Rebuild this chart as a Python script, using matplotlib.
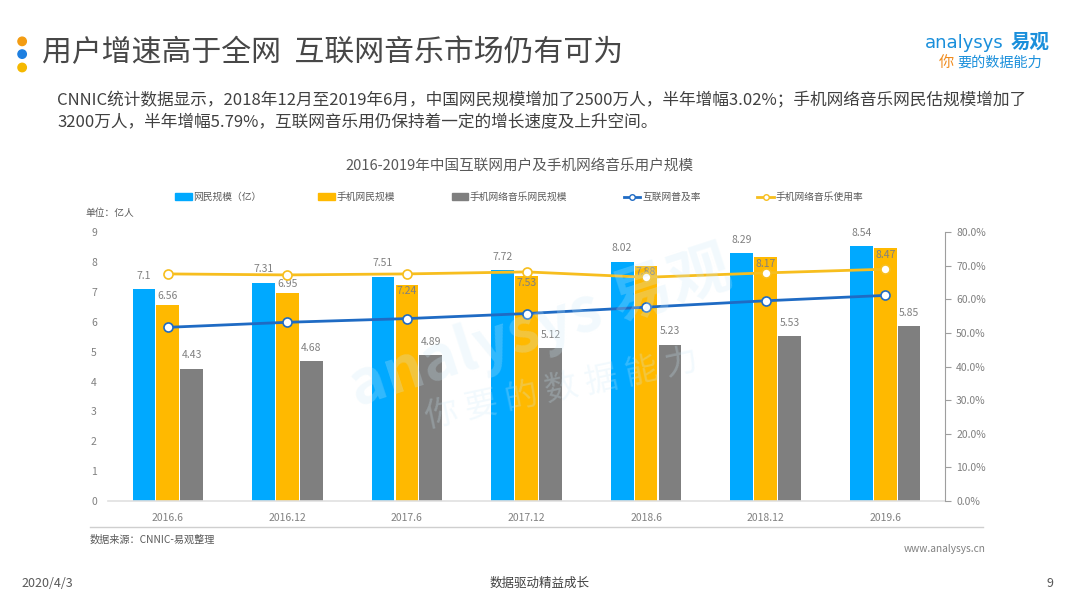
import numpy as np
import matplotlib
matplotlib.use('Agg')
import matplotlib.pyplot as plt
from matplotlib.lines import Line2D
from matplotlib.patches import Patch, Ellipse

plt.rcParams['font.family'] = ['Noto Sans CJK SC', 'DejaVu Sans']

# data
periods = ['2016.6', '2016.12', '2017.6', '2017.12', '2018.6', '2018.12', '2019.6']
netizens = [7.10, 7.31, 7.51, 7.72, 8.02, 8.29, 8.54]
mobile_netizens = [6.56, 6.95, 7.24, 7.53, 7.88, 8.17, 8.47]
mobile_music = [4.43, 4.68, 4.89, 5.12, 5.23, 5.53, 5.85]
penetration = [51.7, 53.2, 54.3, 55.8, 57.7, 59.6, 61.2]
music_usage = [67.6, 67.3, 67.6, 68.2, 66.6, 67.9, 69.0]
left_ticks = list(range(0, 10))
right_ticks = [0, 10, 20, 30, 40, 50, 60, 70, 80]

c_blue = '#00A9FF'
c_yellow = '#FFB900'
c_gray = '#7F7F7F'
c_line_blue = '#1F6BC4'
c_line_yellow = '#F7BE1E'
c_text = '#404040'
c_tick = '#808080'

fig = plt.figure(figsize=(10.8, 6.08), dpi=100)
aspect = 1080 / 608

# header
for yy, cc in zip([0.932, 0.911, 0.889], ['#F39C12', '#1E7FE0', '#F5B800']):
    fig.add_artist(Ellipse((0.0205, yy), 0.0078, 0.0078 * aspect, transform=fig.transFigure,
                           color=cc))
fig.text(0.039, 0.914, '用户增速高于全网  互联网音乐市场仍有可为', fontsize=21.5,
         color='#474747', va='center')
fig.text(0.053, 0.835, 'CNNIC统计数据显示，2018年12月至2019年6月，中国网民规模增加了2500万人，半年增幅3.02%；手机网络音乐网民估规模增加了',
         fontsize=12, color=c_text, va='center')
fig.text(0.053, 0.799, '3200万人，半年增幅5.79%，互联网音乐用仍保持着一定的增长速度及上升空间。',
         fontsize=12, color=c_text, va='center')

# logo
fig.text(0.856, 0.930, 'analysys', fontsize=13, color='#1A8FDB', va='center',
         family=['DejaVu Sans'])
fig.text(0.936, 0.930, '易观', fontsize=14, color='#1A8FDB', va='center', fontweight='bold')
fig.text(0.869, 0.897, '你', fontsize=11, color='#F08C1E', va='center', style='italic')
fig.text(0.886, 0.897, '要的数据能力', fontsize=10.2, color='#1A8FDB', va='center', style='italic')

# watermark
fig.text(0.50, 0.46, 'analysys 易观', fontsize=44, color='#CDEAF8', alpha=0.25,
         rotation=18, ha='center', va='center', fontweight='bold', style='italic')
fig.text(0.52, 0.36, '你 要 的 数 据 能 力', fontsize=24, color='#CDEAF8', alpha=0.25,
         rotation=12, ha='center', va='center')

ax = fig.add_axes([0.1, 0.176, 0.775, 0.442])
ax2 = ax.twinx()

x = np.arange(len(periods))
w = 0.19
ax.bar(x - 0.2, netizens, w, color=c_blue, zorder=2)
ax.bar(x, mobile_netizens, w, color=c_yellow, zorder=2)
ax.bar(x + 0.2, mobile_music, w, color=c_gray, zorder=2)

lbl = dict(fontsize=7.5, color=c_tick, ha='center')
for i in range(len(periods)):
    ax.text(x[i] - 0.2, netizens[i] + 0.28, f'{netizens[i]:g}', va='bottom', **lbl)
    if mobile_netizens[i] > 7.0:
        ax.text(x[i], mobile_netizens[i] - 0.05, f'{mobile_netizens[i]:g}', va='top', **lbl)
    else:
        ax.text(x[i], mobile_netizens[i] + 0.15, f'{mobile_netizens[i]:g}', va='bottom', **lbl)
    ax.text(x[i] + 0.2, mobile_music[i] + 0.28, f'{mobile_music[i]:g}', va='bottom', **lbl)

ax2.plot(x, penetration, color=c_line_blue, lw=2, marker='o', ms=6.5,
         mfc='white', mec=c_line_blue, mew=1.2, zorder=5)
ax2.plot(x, music_usage, color=c_line_yellow, lw=2, marker='o', ms=6.5,
         mfc='white', mec=c_line_yellow, mew=1.2, zorder=5)

ax.set_xlim(-0.5, len(periods) - 0.5)
ax.set_ylim(0, 9)
ax2.set_ylim(0, 80)
ax.set_yticks(left_ticks)
ax2.set_yticks(right_ticks)
ax2.set_yticklabels([f'{t:.1f}%' for t in right_ticks])
ax.set_xticks(x)
ax.set_xticklabels(periods)

for a in (ax, ax2):
    for s in ['top', 'left', 'right', 'bottom']:
        a.spines[s].set_visible(False)
ax.spines['bottom'].set_visible(True)
ax.spines['bottom'].set_color('#E0E0E0')
ax.spines['bottom'].set_linewidth(1.2)
ax2.spines['right'].set_visible(True)
ax2.spines['right'].set_color('#9E9E9E')
ax2.spines['right'].set_linewidth(0.8)

ax.tick_params(axis='y', length=0, labelsize=7.5, labelcolor=c_tick, pad=8)
ax.tick_params(axis='x', length=0, labelsize=7.5, labelcolor=c_tick, pad=9)
ax2.tick_params(axis='y', length=4, width=0.8, color='#9E9E9E', labelsize=7.5,
                labelcolor=c_tick, pad=4)
ax.set_zorder(ax2.get_zorder() - 1)
ax.patch.set_visible(False)

# chart title and legend
fig.text(0.481, 0.726, '2016-2019年中国互联网用户及手机网络音乐用户规模', fontsize=10.5,
         color='#595959', ha='center', va='center')
handles = [Patch(color=c_blue), Patch(color=c_yellow), Patch(color=c_gray),
           Line2D([0], [0], color=c_line_blue, lw=2, marker='o', ms=4, mfc='white', mec=c_line_blue),
           Line2D([0], [0], color=c_line_yellow, lw=2, marker='o', ms=4, mfc='white', mec=c_line_yellow)]
names = ['网民规模（亿）', '手机网民规模', '手机网络音乐网民规模', '互联网普及率', '手机网络音乐使用率']
fig.legend(handles, names, loc='center left', bbox_to_anchor=(0.154, 0.676), ncol=5,
           frameon=False, fontsize=7, labelcolor='#595959', columnspacing=5.8,
           handlelength=1.7, handleheight=0.6, handletextpad=0.2)
fig.text(0.079, 0.649, '单位：亿人', fontsize=7, color='#595959', va='center')

# footer
fig.add_artist(Line2D([0.083, 0.91], [0.133, 0.133], color='#CFCFCF', lw=1,
                      transform=fig.transFigure))
fig.text(0.083, 0.113, '数据来源：CNNIC-易观整理', fontsize=7.3, color='#595959', va='center')
fig.text(0.913, 0.097, 'www.analysys.cn', fontsize=7.3, color='#808080', va='center', ha='right')
fig.text(0.020, 0.041, '2020/4/3', fontsize=9, color='#595959', va='center')
fig.text(0.500, 0.041, '数据驱动精益成长', fontsize=9, color='#404040', va='center', ha='center')
fig.text(0.975, 0.041, '9', fontsize=9, color='#595959', va='center', ha='right')

fig.savefig('out.png', dpi=100, facecolor='white')
